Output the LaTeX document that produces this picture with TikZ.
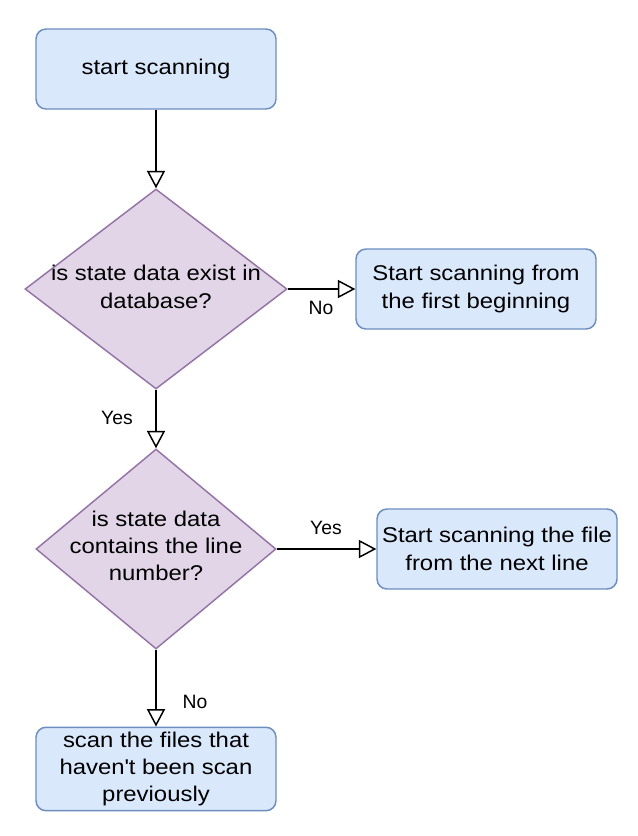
\documentclass[tikz,border=0pt]{standalone}
\usepackage{fontspec}
\setmainfont{Liberation Sans}[FakeStretch=1.12]
\newfontfamily\lblfont{Liberation Sans}
\usetikzlibrary{arrows.meta,shapes.geometric}

\definecolor{boxfill}{HTML}{DAE8FC}
\definecolor{boxline}{HTML}{6C8EBF}
\definecolor{askfill}{HTML}{E1D5E7}
\definecolor{askline}{HTML}{9673A6}

\begin{document}
\begin{tikzpicture}[x=0.75pt, y=-0.75pt]

		\tikzstyle{step box}=[rectangle, rounded corners=7.5pt, line width=1.1pt, fill=boxfill, draw=boxline, text=black, minimum width=180pt, minimum height=60pt, align=center, font=\fontsize{16}{20.5}\selectfont]
		\tikzstyle{ask}=[diamond, line width=1.1pt, fill=askfill, draw=askline, inner sep=0pt]
		\tikzstyle{ask text}=[align=center, text=black, font=\fontsize{16}{20.5}\selectfont]
		\tikzstyle{flow}=[-{Triangle[open, length=13pt, width=13.5pt]}, line width=1.1pt, black]
		\tikzstyle{lbl}=[text=black, font=\lblfont\fontsize{14.5}{17}\selectfont]

		\useasboundingbox (0,0) rectangle (638,836);

		\node[step box] (start) at (156,69)  {start scanning};
		\node[ask, minimum width=196.5pt, minimum height=150pt] (q1) at (156,289) {};
		\node[ask text] (q1t) at (156,287) {is state data exist in\\database?};
		\node[step box] (fresh) at (476,289) {Start scanning from\\the first beginning};
		\node[ask, minimum width=180pt, minimum height=150pt] (q2) at (156,549) {};
		\node[ask text] (q2t) at (156,546) {is state data\\contains the line\\number?};
		\node[step box] (next) at (497,549) {Start scanning the file\\from the next line};
		\node[step box] (rest) at (156,769) {scan the files that\\haven\textquotesingle t been scan\\previously};

		% decision links
		\draw[flow] (start) -- (q1);
		\draw[flow] (q1) -- (fresh);
		\draw[flow] (q1) -- (q2);
		\draw[flow] (q2) -- (next);
		\draw[flow] (q2) -- (rest);

		\node[lbl] (no1)  at (321,308) {No};
		\node[lbl] (yes1) at (117,418) {Yes};
		\node[lbl] (yes2) at (326,528) {Yes};
		\node[lbl] (no2)  at (195,702) {No};

\end{tikzpicture}
\end{document}
